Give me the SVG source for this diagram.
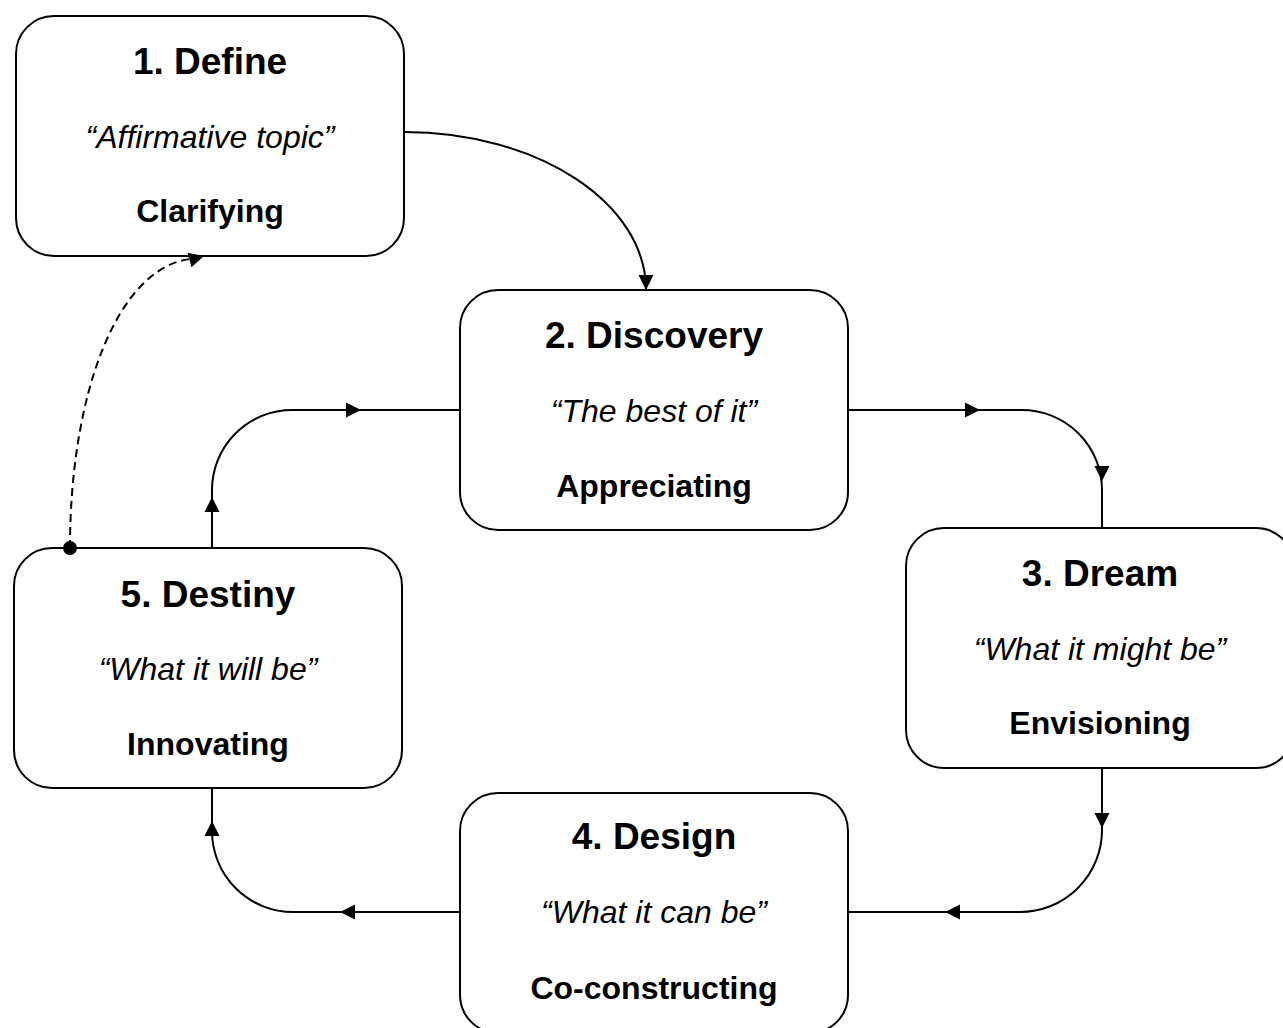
<svg xmlns="http://www.w3.org/2000/svg" xmlns:xlink="http://www.w3.org/1999/xlink" width="1283" height="1028" viewBox="0 0 1283 1028">
  <style>
    .box { fill: #ffffff; stroke: #000000; stroke-width: 2; }
    .title { font-family: "Liberation Sans", Arial, sans-serif; font-weight: bold; font-size: 37px; text-anchor: middle; fill: #000; }
    .quote { font-family: "Liberation Sans", Arial, sans-serif; font-style: italic; font-size: 32px; text-anchor: middle; fill: #000; }
    .role { font-family: "Liberation Sans", Arial, sans-serif; font-weight: bold; font-size: 32px; text-anchor: middle; fill: #000; }
    .edge { fill: none; stroke: #000; stroke-width: 2; }
    .dash { stroke-dasharray: 8 5; }
  </style>
  <defs>
    <!-- filled arrowhead, tip at origin pointing along +x -->
    <path id="ah" d="M0,0 L-15,-7.5 L-15,7.5 Z" fill="#000"/>
  </defs>

  <rect x="0" y="0" width="1283" height="1028" fill="#ffffff"/>

  <g id="define">
    <rect class="box" x="16" y="16" width="388" height="240" rx="38" ry="38"/>
    <text class="title" x="210" y="74">1. Define</text>
    <text class="quote" x="210" y="148">“Affirmative topic”</text>
    <text class="role" x="210" y="222">Clarifying</text>
  </g>

  <g id="discovery">
    <rect class="box" x="460" y="290" width="388" height="240" rx="38" ry="38"/>
    <text class="title" x="654" y="348">2. Discovery</text>
    <text class="quote" x="654" y="422">“The best of it”</text>
    <text class="role" x="654" y="497">Appreciating</text>
  </g>

  <g id="dream">
    <rect class="box" x="906" y="528" width="388" height="240" rx="38" ry="38"/>
    <text class="title" x="1100" y="586">3. Dream</text>
    <text class="quote" x="1100" y="660">“What it might be”</text>
    <text class="role" x="1100" y="734">Envisioning</text>
  </g>

  <g id="design">
    <rect class="box" x="460" y="793" width="388" height="240" rx="38" ry="38"/>
    <text class="title" x="654" y="849">4. Design</text>
    <text class="quote" x="654" y="923">“What it can be”</text>
    <text class="role" x="654" y="999">Co-constructing</text>
  </g>

  <g id="destiny">
    <rect class="box" x="14" y="548" width="388" height="240" rx="38" ry="38"/>
    <text class="title" x="208" y="607">5. Destiny</text>
    <text class="quote" x="208" y="680">“What it will be”</text>
    <text class="role" x="208" y="755">Innovating</text>
  </g>

  <g id="connectors">
    <!-- Define -> Discovery -->
    <path class="edge" d="M404,132 C538,132 646,203 646,290"/>
    <use xlink:href="#ah" transform="translate(646,290) rotate(90)"/>

    <!-- Discovery -> Dream -->
    <path class="edge" d="M848,410 L1022,410 A80,80 0 0 1 1102,490 L1102,528"/>
    <use xlink:href="#ah" transform="translate(980,410)"/>
    <use xlink:href="#ah" transform="translate(1102,481) rotate(90)"/>

    <!-- Dream -> Design -->
    <path class="edge" d="M1102,768 L1102,830 A82,82 0 0 1 1020,912 L848,912"/>
    <use xlink:href="#ah" transform="translate(1102,828) rotate(90)"/>
    <use xlink:href="#ah" transform="translate(945,912) rotate(180)"/>

    <!-- Design -> Destiny -->
    <path class="edge" d="M460,912 L293,912 A81,81 0 0 1 212,831 L212,788"/>
    <use xlink:href="#ah" transform="translate(340,912) rotate(180)"/>
    <use xlink:href="#ah" transform="translate(212,821) rotate(-90)"/>

    <!-- Destiny -> Discovery -->
    <path class="edge" d="M212,548 L212,490 A80,80 0 0 1 292,410 L460,410"/>
    <use xlink:href="#ah" transform="translate(212,497) rotate(-90)"/>
    <use xlink:href="#ah" transform="translate(361,410)"/>

    <!-- Destiny -> Define (dashed feedback) -->
    <path class="edge dash" d="M70,548 C70,392 118,268 190,259"/>
    <use xlink:href="#ah" transform="translate(204,256) rotate(-15)"/>
    <circle cx="70" cy="548" r="7" fill="#000"/>
  </g>
</svg>
